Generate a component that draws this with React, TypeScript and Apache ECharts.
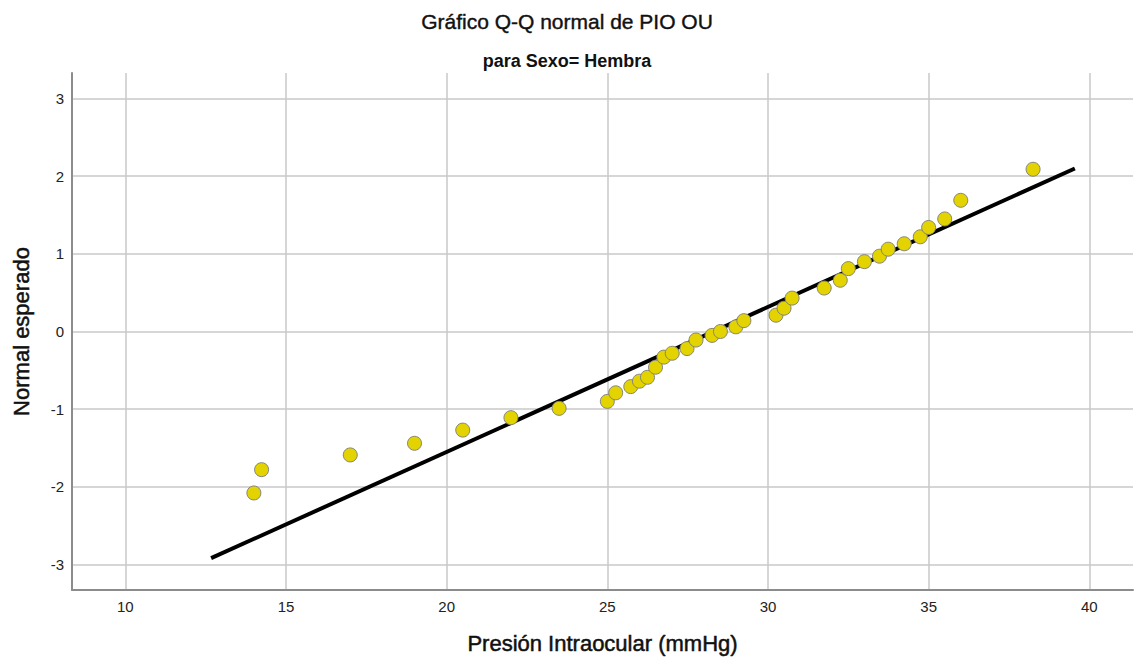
import React, { useEffect, useRef } from "react";
import * as echarts from "echarts";

const titleText = "Gráfico Q-Q normal de PIO OU";
const subtitleText = "para Sexo= Hembra";
const xName = "Presión Intraocular (mmHg)";
const yName = "Normal esperado";

const xTicks = [10, 15, 20, 25, 30, 35, 40];
const yTicks = [-3, -2, -1, 0, 1, 2, 3];

const observed = [
  14.0, 14.24, 17.0, 19.0, 20.5, 22.0, 23.5, 25.0, 25.26, 25.73, 26.0, 26.25,
  26.5, 26.76, 27.02, 27.48, 27.76, 28.26, 28.52, 29.0, 29.25, 30.25, 30.5,
  30.75, 31.75, 32.25, 32.5, 33.0, 33.47, 33.74, 34.24, 34.74, 35.0, 35.5,
  36.0, 38.25,
];
const expected = [
  -2.08, -1.78, -1.59, -1.44, -1.27, -1.11, -0.99, -0.9, -0.79, -0.71, -0.64,
  -0.59, -0.46, -0.33, -0.28, -0.22, -0.11, -0.05, 0.0, 0.06, 0.14, 0.21,
  0.3, 0.43, 0.56, 0.66, 0.81, 0.9, 0.97, 1.06, 1.13, 1.22, 1.34, 1.45, 1.69,
  2.09,
];

const lineX = [12.67, 39.55];
const lineY = [-2.92, 2.1];

export default function App() {
  const ref = useRef<HTMLDivElement>(null);
  useEffect(() => {
    document.body.style.margin = "0";
    if (!ref.current) return;
    const chart = echarts.init(ref.current, null, { renderer: "svg" });
    const font = "Arial, 'Liberation Sans', sans-serif";
    chart.setOption({
      animation: false,
      backgroundColor: "#ffffff",
      textStyle: { fontFamily: font },
      title: [
        {
          text: titleText,
          left: "center",
          top: 6,
          textStyle: {
            fontSize: 21, fontWeight: "normal", color: "#111", fontFamily: font,
            textBorderColor: "#111", textBorderWidth: 0.4,
          },
        },
        {
          text: subtitleText,
          left: "center",
          top: 47,
          textStyle: { fontSize: 18, fontWeight: "bold", color: "#111", fontFamily: font },
        },
      ],
      grid: { left: 72, right: 1, top: 73, bottom: 72, containLabel: false },
      xAxis: {
        type: "value",
        min: 8.34,
        max: 41.36,
        name: xName,
        nameLocation: "middle",
        nameGap: 42,
        nameTextStyle: {
          fontSize: 22, color: "#111", fontFamily: font,
          textBorderColor: "#111", textBorderWidth: 0.5,
        },
        axisLine: { show: true, onZero: false, lineStyle: { color: "#8c8c8c", width: 2 } },
        axisTick: { show: false, customValues: xTicks },
        axisLabel: { customValues: xTicks, fontSize: 15, color: "#222", margin: 9, fontFamily: font },
        splitLine: { show: true, lineStyle: { color: "#c8c8c8", width: 1.5 } },
      },
      yAxis: {
        type: "value",
        min: -3.33,
        max: 3.33,
        name: yName,
        nameLocation: "middle",
        nameGap: 40,
        nameTextStyle: {
          fontSize: 22, color: "#111", fontFamily: font,
          textBorderColor: "#111", textBorderWidth: 0.5,
        },
        axisLine: { show: true, onZero: false, lineStyle: { color: "#8c8c8c", width: 2 } },
        axisTick: { show: false, customValues: yTicks },
        axisLabel: { customValues: yTicks, fontSize: 15, color: "#222", margin: 8, fontFamily: font },
        splitLine: { show: true, lineStyle: { color: "#c8c8c8", width: 1.5 } },
      },
      series: [
        {
          type: "line",
          data: lineX.map((x, i) => [x, lineY[i]]),
          symbol: "none",
          lineStyle: { color: "#000", width: 4 },
          z: 2,
        },
        {
          type: "scatter",
          data: observed.map((x, i) => [x, expected[i]]),
          symbolSize: 14,
          itemStyle: { color: "#e3d300", borderColor: "#85857a", borderWidth: 1, opacity: 1 },
          z: 3,
        },
      ],
    });
    return () => chart.dispose();
  }, []);
  return <div ref={ref} style={{ width: 1134, height: 662 }} />;
}
